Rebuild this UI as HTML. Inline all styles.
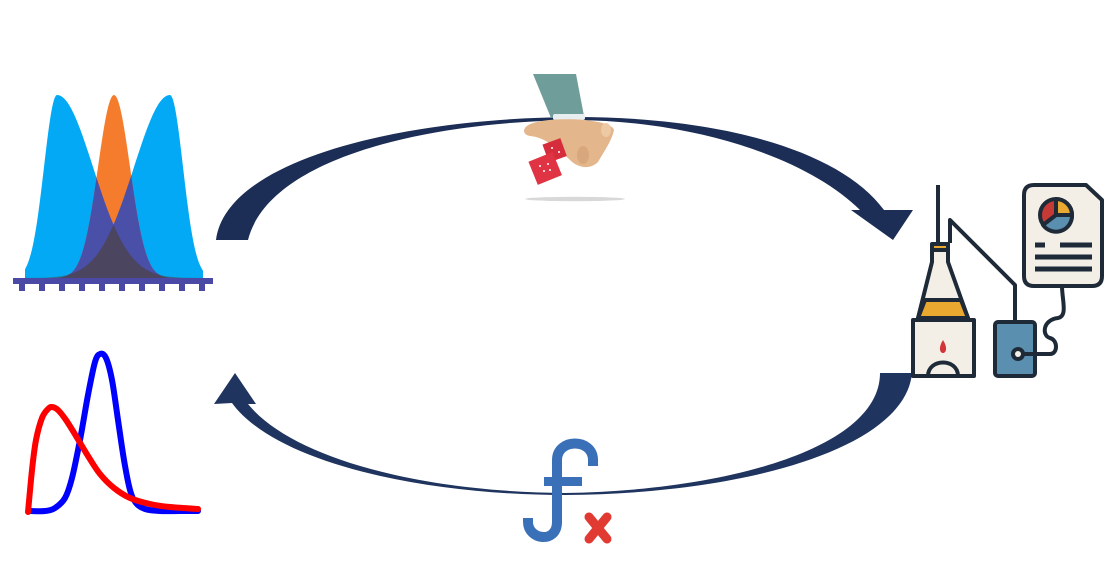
<!DOCTYPE html>
<html><head><meta charset="utf-8"><style>
html,body{margin:0;padding:0;background:#fff;width:1109px;height:574px;overflow:hidden}
svg{display:block}
</style></head><body>
<svg id="s" width="1109" height="574" viewBox="0 0 1109 574" xmlns="http://www.w3.org/2000/svg">
<defs>
<clipPath id="cL"><path id="cLp"/></clipPath>
<clipPath id="cR"><path id="cRp"/></clipPath>
<clipPath id="cO"><path id="cOp"/></clipPath>
</defs>
<!-- top arrow -->
<path fill="#1c2e55" d="M216,240 C226,160 400,118 575,117 C720,117 840,150 884,210 L913,210 L893,240 L851,210 L860,210 C810,160 700,121 575,120 C420,122 268,160 248,240 Z"/>
<!-- bottom arrow -->
<path fill="#1f345e" d="M912,373 C905,450 740,494 565,495 C420,495 275,462 232,403 L214,404 L235,373 L256,404 L248,404 C292,458 420,492 565,493 C720,491 880,450 880,373 Z"/>

<!-- distributions (top-left) -->
<g id="dist"></g>
<rect x="13" y="278" width="200" height="6" fill="#4a4aa6"/>
<g id="ticks"></g>

<!-- skewed curves (bottom-left) -->
<path id="blueCurve" fill="none" stroke="#0000ff" stroke-width="6" stroke-linecap="round" stroke-linejoin="round"/>
<path id="redCurve" fill="none" stroke="#ff0000" stroke-width="6" stroke-linecap="round" stroke-linejoin="round"/>

<!-- hand with dice -->
<g>
<ellipse cx="575" cy="199" rx="50" ry="2.2" fill="#d8d8d8"/>
<polygon points="533,74 576,74 584,116 551,118" fill="#6f9e9a"/>
<rect x="553" y="114" width="32" height="6" rx="2" fill="#e6eef0"/>
<path d="M525,128 C530,120 560,118 585,120 C600,122 612,124 614,130 C612,140 605,150 598,162 C590,170 578,168 570,160 C560,150 545,137 530,136 C524,135 523,131 525,128 Z" fill="#e3b68c"/>
<ellipse cx="606" cy="130" rx="5" ry="7" fill="#edc9a4"/>
<ellipse cx="583" cy="155" rx="6" ry="9" fill="#d9a77c"/>
<rect x="545" y="141" width="19" height="19" transform="rotate(-20 554 150)" fill="#d62d3c"/>
<rect x="532" y="156" width="26" height="25" transform="rotate(-22 545 168)" fill="#e03343"/>
<g fill="#fff"><circle cx="540" cy="166" r="1"/><circle cx="548" cy="164" r="1"/><circle cx="544" cy="171" r="1"/><circle cx="550" cy="170" r="1"/><circle cx="552" cy="148" r="1"/><circle cx="559" cy="152" r="1"/></g>
</g>

<!-- fx -->
<g>
<path d="M528,518 L528,522 C528,540 557,544 557,522 L557,460 C557,438 593,438 593,460 L593,466" fill="none" stroke="#3a70b8" stroke-width="10"/>
<rect x="544" y="477" width="38" height="9" fill="#3a70b8"/>
<path d="M589,517 L607,539 M607,517 L589,539" stroke="#e03a33" stroke-width="9" stroke-linecap="round"/>
</g>

<!-- lab icon -->
<g stroke="#1f2a38" stroke-width="4" stroke-linejoin="round">
<line x1="938" y1="185" x2="938" y2="245"/>
<polyline points="950,243 950,220 1015,285 1015,335" fill="none"/>
<path d="M932,245 L948,245 L948,262 L968,318 L918,318 L932,262 Z" fill="#f3efe6"/>
<path d="M925,300 L961,300 L968,318 L918,318 Z" fill="#e9a931"/>
<rect x="932" y="244" width="16" height="6" fill="#e9a931"/>
<rect x="913" y="320" width="61" height="56" fill="#f3efe6"/>
<path d="M928,376 C928,358 958,358 958,376 Z" fill="#f3efe6"/>
<path d="M943,340 C938,348 940,353 943,353 C946,353 948,348 943,340 Z" fill="#d3343a" stroke="none"/>
<rect x="995" y="322" width="40" height="54" rx="3" fill="#5b8fb0"/>
<circle cx="1018" cy="354" r="5" fill="#f3efe6"/>
<path d="M1023,354 L1050,354 C1058,354 1058,340 1050,338 C1042,336 1042,320 1058,318 C1068,316 1062,300 1062,286" fill="none"/>
<path d="M1024,195 Q1024,185 1034,185 L1086,185 L1102,200 L1102,276 Q1102,286 1092,286 L1034,286 Q1024,286 1024,276 Z" fill="#f3efe6"/>
<circle cx="1056" cy="215" r="16" fill="#c53a35"/>
<path d="M1056,215 L1056,199 A16,16 0 0 1 1072,215 Z" fill="#e9a931"/>
<path d="M1056,215 L1072,215 A16,16 0 0 1 1043,225 Z" fill="#5b8fb0"/>
<g stroke-width="5"><line x1="1035" y1="245" x2="1045" y2="245"/><line x1="1060" y1="245" x2="1092" y2="245"/><line x1="1035" y1="257" x2="1092" y2="257"/><line x1="1035" y1="269" x2="1092" y2="269"/></g>
</g>
</svg>
<script>
// distribution parameters: [mean px, sigma outer, sigma inner, height px]
const distMeans = [57, 114, 170];
const distSigmaOuter = [13, 16, 13];
const distSigmaInner = [36, 16, 36];
const distHeight = [183, 183, 183];
const baseY = 278;
function gPath(i, x0, x1){
  let d = '';
  for(let x=x0;x<=x1;x+=1){
    const m=distMeans[i];
    const inner = (i===0 && x>m) || (i===2 && x<m) || i===1;
    const s = inner ? distSigmaInner[i] : distSigmaOuter[i];
    const y = baseY - distHeight[i]*Math.exp(-((x-m)*(x-m))/(2*s*s));
    d += (d?'L':'M')+x+','+y.toFixed(1);
  }
  return d + 'L'+x1+','+baseY+'L'+x0+','+baseY+'Z';
}
const pL=gPath(0,25,203), pR=gPath(2,25,203), pO=gPath(1,25,203);
document.getElementById('cLp').setAttribute('d',pL);
document.getElementById('cRp').setAttribute('d',pR);
document.getElementById('cOp').setAttribute('d',pO);
const NS='http://www.w3.org/2000/svg';
const dist=document.getElementById('dist');
function add(parent,d,fill,clip,name){
  const p=document.createElementNS(NS,'path');
  p.setAttribute('d',d);p.setAttribute('fill',fill);
  if(clip)p.setAttribute('clip-path','url(#'+clip+')');
  
  
  parent.appendChild(p);return p;
}
function grp(parent,clip){
  const g=document.createElementNS(NS,'g');g.setAttribute('clip-path','url(#'+clip+')');parent.appendChild(g);return g;
}
add(dist,pL,'#03a9f4',null,'left-distribution');
add(dist,pR,'#03a9f4',null,'right-distribution');
add(dist,pR,'#1787a8','cL','side-overlap');
add(dist,pO,'#f57c2c',null,'center-distribution');
add(dist,pO,'#4a4fa8','cL','center-left-overlap');
add(dist,pO,'#4a4fa8','cR','center-right-overlap');
add(grp(dist,'cL'),pO,'#4b4560','cR','triple-overlap');
// ticks
const tickXs=[22,42,62,82,102,122,142,162,182,202];
const tg=document.getElementById('ticks');
tickXs.forEach(x=>{const r=document.createElementNS(NS,'rect');
r.setAttribute('x',x-3);r.setAttribute('y',283);r.setAttribute('width',6);r.setAttribute('height',8);r.setAttribute('fill','#4a4aa6');


tg.appendChild(r);});
// skewed curves: sample points (x px, y px)
const blueX=[30,45,55,65,72,80,88,95,100,106,112,118,124,130,136,145,160,180,198];
const blueY=[511,511,508,498,478,440,395,362,354,358,380,420,460,490,503,509,511,511,511];
const redX=[28,32,36,42,48,52,58,66,76,88,100,114,130,150,170,198];
const redY=[512,470,440,418,409,407,410,420,436,456,474,488,498,504,507,509];
function smooth(xs,ys){
  let d='M'+xs[0]+','+ys[0];
  for(let i=0;i<xs.length-1;i++){
    const x0=xs[Math.max(i-1,0)],y0=ys[Math.max(i-1,0)],x1=xs[i],y1=ys[i],x2=xs[i+1],y2=ys[i+1],x3=xs[Math.min(i+2,xs.length-1)],y3=ys[Math.min(i+2,xs.length-1)];
    d+='C'+(x1+(x2-x0)/6).toFixed(1)+','+(y1+(y2-y0)/6).toFixed(1)+' '+(x2-(x3-x1)/6).toFixed(1)+','+(y2-(y3-y1)/6).toFixed(1)+' '+x2+','+y2;
  }
  return d;
}
document.getElementById('blueCurve').setAttribute('d',smooth(blueX,blueY));
document.getElementById('redCurve').setAttribute('d',smooth(redX,redY));
</script>
</body></html>
